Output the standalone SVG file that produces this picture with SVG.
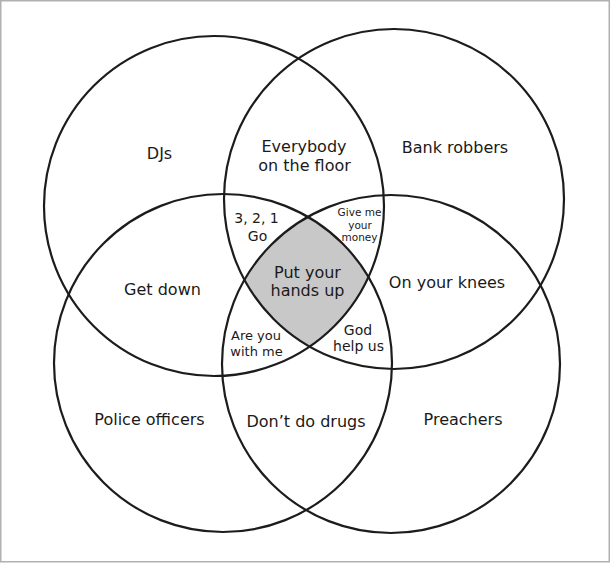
<svg xmlns="http://www.w3.org/2000/svg" width="610" height="563" viewBox="0 0 610 563">
<style>
.set{fill:none;stroke:#1c1c1c;stroke-width:2.2}
text{font-family:"DejaVu Sans","Noto Sans",sans-serif;fill:#1a1a1a;text-anchor:middle}
.l{font-size:16px}
.m{font-size:14px}
.s{font-size:13px}
.xs{font-size:10.5px}
</style>
<rect x="0.75" y="0.75" width="608.5" height="561" fill="#ffffff" stroke="#b0b0b0" stroke-width="1.5"/>
<g id="center-region">
<path d="M307,217 A169,169 0 0 1 368.4,275.9 A170,170 0 0 1 309.6,346.6 A170,170 0 0 1 244.5,278.8 A169,169 0 0 1 307,217 Z" fill="#c8c8c8"/>
</g>
<g id="set-djs"><circle class="set" cx="214" cy="206" r="170"/><text class="l" x="159.5" y="159">DJs</text></g>
<g id="set-bank-robbers"><circle class="set" cx="394" cy="199" r="170"/><text class="l" x="455" y="153">Bank robbers</text></g>
<g id="set-police"><circle class="set" cx="223" cy="363" r="169"/><text class="l" x="149.5" y="425">Police officers</text></g>
<g id="set-preachers"><circle class="set" cx="391" cy="364" r="169"/><text class="l" x="463" y="425">Preachers</text></g>
<g id="region-everybody"><text class="l" x="304" y="152">Everybody</text><text class="l" x="304.5" y="171">on the floor</text></g>
<g id="region-get-down"><text class="l" x="162.5" y="294.5">Get down</text></g>
<g id="region-knees"><text class="l" x="447" y="288">On your knees</text></g>
<g id="region-drugs"><text class="l" x="306" y="426.5">Don’t do drugs</text></g>
<g id="region-321"><text class="m" x="256.5" y="223">3, 2, 1</text><text class="m" x="257.5" y="240.5">Go</text></g>
<g id="region-money"><text class="xs" x="359.5" y="215.5">Give me</text><text class="xs" x="360" y="228.5">your</text><text class="xs" x="359.5" y="240.5">money</text></g>
<g id="region-with-me"><text class="s" x="256" y="340">Are you</text><text class="s" x="256.5" y="356">with me</text></g>
<g id="region-god"><text class="m" x="358" y="334.5">God</text><text class="m" x="358.5" y="350.5">help us</text></g>
<g id="region-hands-up"><text class="l" x="307.5" y="277.5">Put your</text><text class="l" x="307.5" y="296">hands up</text></g>
</svg>
